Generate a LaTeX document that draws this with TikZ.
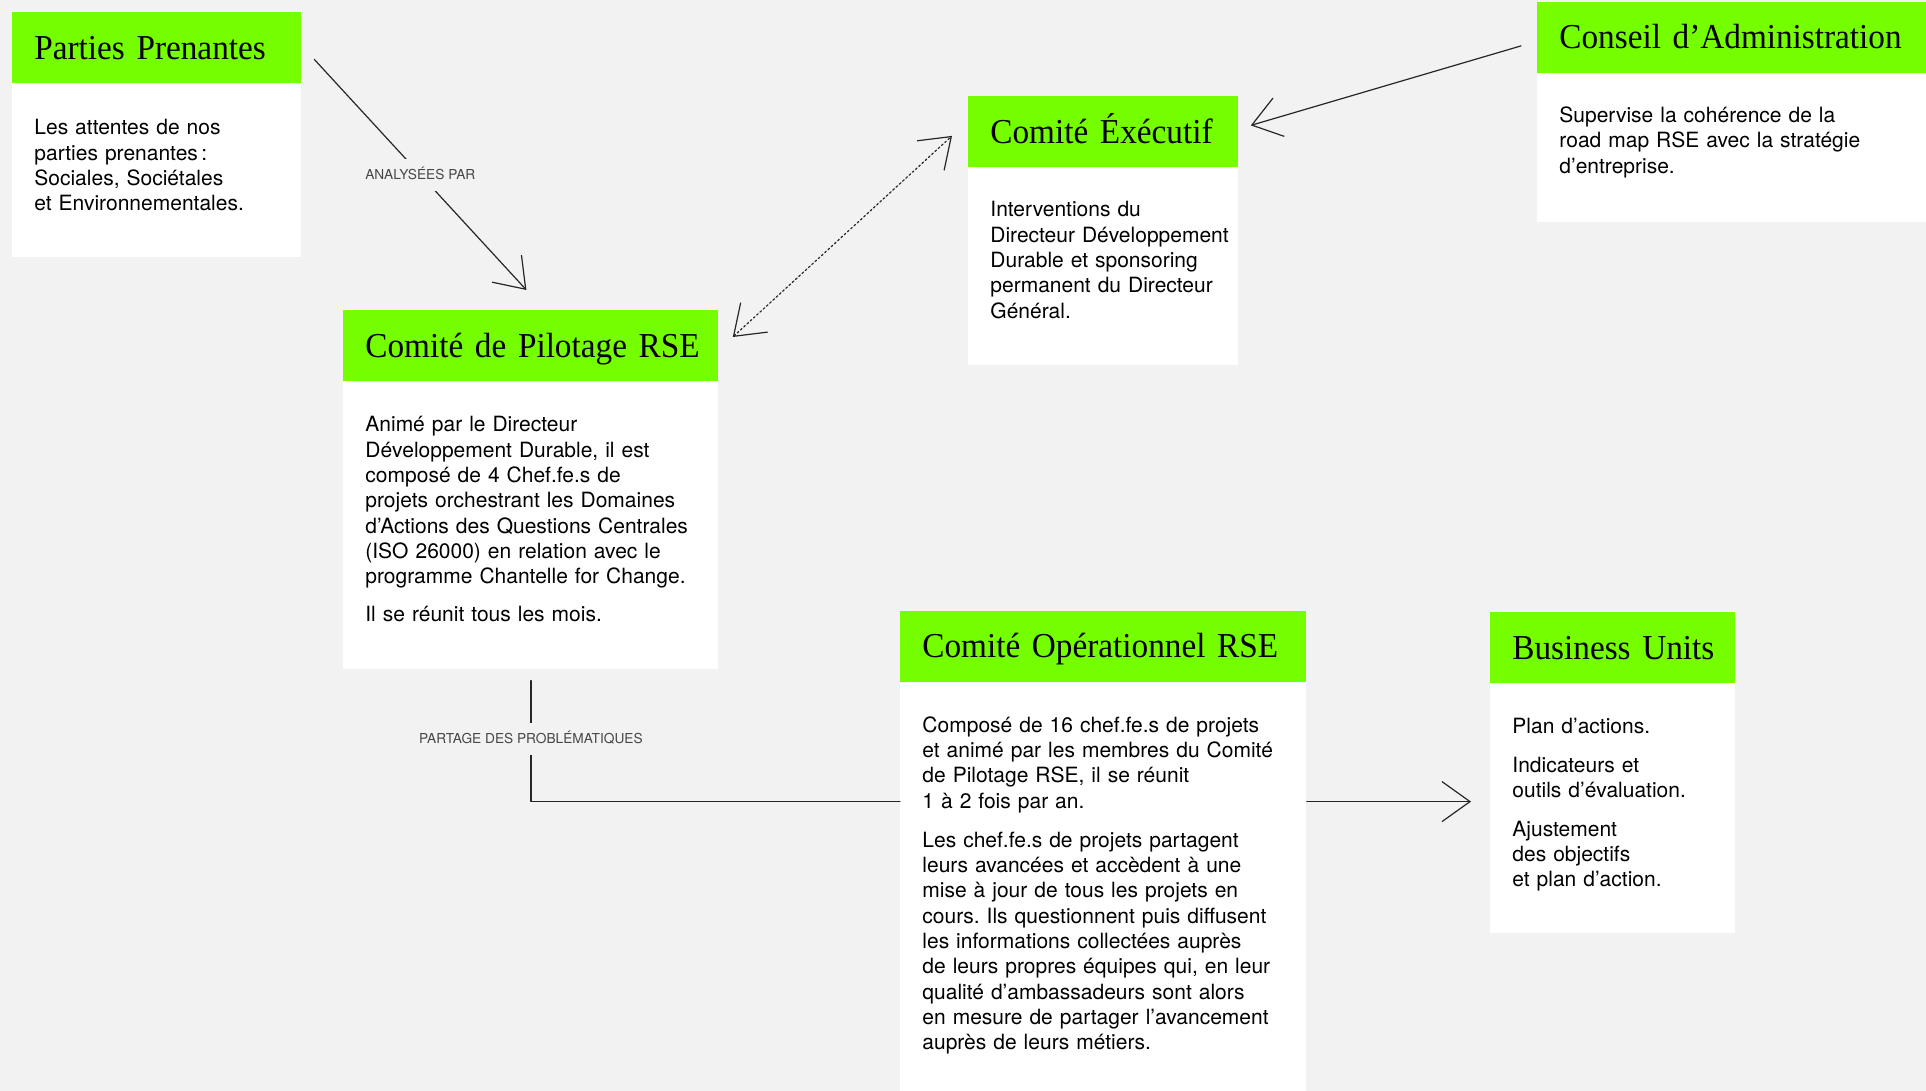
\documentclass[tikz,border=0pt]{standalone}
\usepackage{fontspec}
\setmainfont{TeX Gyre Heros}
\newfontfamily\titrefont[FakeStretch=0.95]{Liberation Serif}
\usetikzlibrary{arrows.meta,positioning}
\definecolor{vert}{RGB}{117,254,0}
\definecolor{fond}{RGB}{242,242,242}
\definecolor{gris}{RGB}{70,70,70}
\frenchspacing
\tikzset{
	titre/.style={fill=vert,anchor=north west,inner xsep=11pt,inner ysep=0pt,text height=23.5pt,text depth=12pt,align=left,font=\titrefont\fontsize{17.5}{20}\selectfont},
	corps/.style={fill=white,anchor=north west,inner sep=0pt},
	texte/.style={anchor=base west,inner sep=0pt,align=left,font=\fontsize{10.5}{12.67}\selectfont},
	etiq/.style={fill=fond,text=gris,inner xsep=3pt,inner ysep=5.6pt,text height=4.8pt,text depth=0pt,font=\fontsize{6.85}{8}\selectfont},
	lien/.style={line width=0.6pt,draw=black!85}
}

\begin{document}
\begin{tikzpicture}[line cap=round,line join=round,>={Straight Barb[length=14pt,width=20pt]},x=0.5pt,y=-0.5pt]
	\fill[fond] (0,0) rectangle (1926,1091);
	\useasboundingbox (0,0) rectangle (1926,1091);
	% Parties Prenantes
	\node[titre,text width=122.5pt] (pp) at (12,12) {\mbox{Parties Prenantes}};
	\node[corps,minimum width=144.5pt,minimum height=86.5pt] (ppc) at (pp.south west) {};
	\node[texte,text width=130pt] (ppt) at ([shift={(11pt,-25.5pt)}]pp.south west)
		{Les attentes de nos\\ parties prenantes\,:\\ Sociales, Sociétales\\ et Environnementales.};
	% Comite de Pilotage RSE
	\node[titre,text width=165.5pt] (pil) at (343,310) {\mbox{Comité de Pilotage RSE}};
	\node[corps,minimum width=187.5pt,minimum height=143.5pt] (pilc) at (pil.south west) {};
	\node[texte,text width=172pt] (pilt) at ([shift={(11pt,-25pt)}]pil.south west)
		{Animé par le Directeur\\ Développement Durable, il est\\ composé de 4 Chef.fe.s de\\ projets orchestrant les Domaines\\ d’Actions des Questions Centrales\\ (ISO 26000) en relation avec le\\ programme Chantelle for Change.\\[6.4pt] Il se réunit tous les mois.};
	% Comite Executif
	\node[titre,text width=113pt] (exe) at (968,96) {\mbox{Comité Éxécutif}};
	\node[corps,minimum width=135pt,minimum height=98.5pt] (exec) at (exe.south west) {};
	\node[texte,text width=124pt] (exet) at ([shift={(11pt,-24.5pt)}]exe.south west)
		{Interventions du\\ Directeur Développement\\ Durable et sponsoring\\ permanent du Directeur\\ Général.};
	% Conseil d'Administration
	\node[titre,text width=180pt] (cons) at (1537,1.5) {\mbox{Conseil d’Administration}};
	\node[corps,minimum width=202pt,minimum height=74pt] (consc) at (cons.south west) {};
	\node[texte,text width=175pt] (const) at ([shift={(11pt,-24.6pt)}]cons.south west)
		{Supervise la cohérence de la\\ road map RSE avec la stratégie\\ d’entreprise.};
	% Comite Operationnel RSE
	\node[titre,text width=181pt] (op) at (900,610.5) {\mbox{Comité Opérationnel RSE}};
	\node[corps,minimum width=203pt,minimum height=210pt] (opc) at (op.south west) {};
	\node[texte,text width=185pt] (opt) at ([shift={(11pt,-25pt)}]op.south west)
		{Composé de 16 chef.fe.s de projets\\ et animé par les membres du Comité\\ de Pilotage RSE, il se réunit\\ 1 à 2 fois par an.\\[6.8pt] Les chef.fe.s de projets partagent\\ leurs avancées et accèdent à une\\ mise à jour de tous les projets en\\ cours. Ils questionnent puis diffusent\\ les informations collectées auprès\\ de leurs propres équipes qui, en leur\\ qualité d’ambassadeurs sont alors\\ en mesure de partager l’avancement\\ auprès de leurs métiers.};
	% Business Units
	\node[titre,text width=100.5pt] (bu) at (1490,612) {\mbox{Business Units}};
	\node[corps,minimum width=122.5pt,minimum height=124.5pt] (buc) at (bu.south west) {};
	\node[texte,text width=105pt] (but) at ([shift={(11pt,-25pt)}]bu.south west)
		{Plan d’actions.\\[6.6pt] Indicateurs et\\ outils d’évaluation.\\[6.6pt] Ajustement\\ des objectifs\\ et plan d’action.};
	% liens
	\coordinate (a1) at ([shift={(12.5,11.5)}]pp.east);
	\coordinate (a2) at ([shift={(-4.5,-20)}]pil.north);
	\draw[lien,->] (a1) -- node[etiq] {ANALYSÉES PAR} (a2);
	\coordinate (b1) at ([shift={(14,27)}]pil.north east);
	\coordinate (b2) at ([shift={(-16,4)}]exe.west);
	\draw[lien,<->,dash pattern=on 1pt off 1.2pt] (b1) -- (b2);
	\coordinate (c1) at ([shift={(-16,8.5)}]cons.west);
	\coordinate (c2) at ([shift={(12,-6.5)}]exe.east);
	\draw[lien,->] (c1) -- (c2);
	\coordinate (d1) at ([yshift=-5.5pt]pilc.south);
	\coordinate (d2) at ([yshift=-66pt]pilc.south);
	\draw[lien] (d1) -- node[etiq,yshift=1pt] {PARTAGE DES PROBLÉMATIQUES} (d2) -- (d2 -| opc.west);
	\draw[lien,->,shorten >=9.5pt] (d2 -| opc.east) -- (d2 -| buc.west);
\end{tikzpicture}
\end{document}
